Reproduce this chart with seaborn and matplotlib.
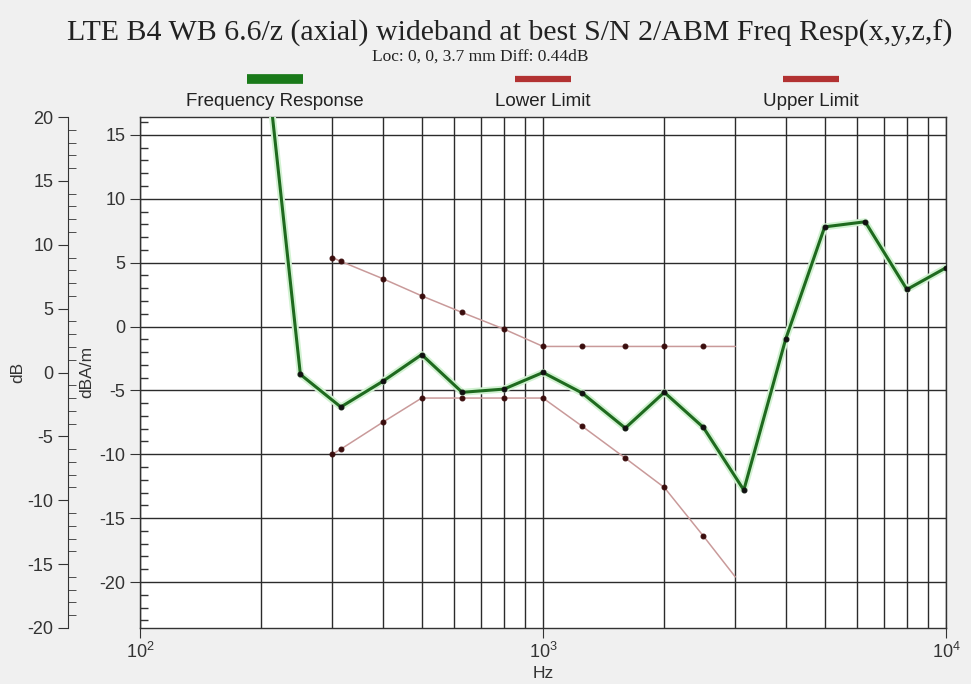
import numpy as np
import pandas as pd
import seaborn as sns
import matplotlib.pyplot as plt
from matplotlib.lines import Line2D
from matplotlib.ticker import MultipleLocator

# Frequency response (dBA/m)
resp_hz = [200, 250, 315, 400, 500, 630, 800, 1000, 1250, 1600, 2000, 2500,
           3150, 4000, 5000, 6300, 8000, 10000]
resp_db = [24.5, -3.75, -6.3, -4.3, -2.2, -5.15, -4.9, -3.6, -5.2, -7.95,
           -5.15, -7.9, -12.8, -1.0, 7.8, 8.2, 2.9, 4.6]

# Limit masks
limit_hz = [300, 315, 400, 500, 630, 800, 1000, 1250, 1600, 2000, 2500, 3000]
upper_db = [5.4, 5.1, 3.75, 2.4, 1.1, -0.2, -1.56, -1.56, -1.56, -1.56, -1.56, -1.56]
lower_db = [-10.0, -9.6, -7.5, -5.6, -5.6, -5.6, -5.6, -7.8, -10.3, -12.6, -16.4, -19.6]

db_offset = 3.6  # outer dB axis = dBA/m + offset

resp = pd.DataFrame({"Hz": resp_hz, "val": resp_db})
upper = pd.DataFrame({"Hz": limit_hz, "val": upper_db})
lower = pd.DataFrame({"Hz": limit_hz, "val": lower_db})

sns.set_style("white")
plt.rcParams["font.family"] = ["Liberation Sans", "DejaVu Sans"]
plt.rcParams["axes.unicode_minus"] = False

W, H = 971, 684
fig = plt.figure(figsize=(W / 100, H / 100), dpi=100, facecolor="#f0f0f0")
ax = fig.add_axes([140 / W, 1 - 628 / H, 806 / W, 511 / H])
ax.set_facecolor("white")

green = "#1f6a1f"
limit_col = "#c99a9a"
dot_col = "#3a0d0d"

# limits
for d in (upper, lower):
    sns.lineplot(data=d, x="Hz", y="val", ax=ax, color=limit_col, lw=1.1,
                 marker="o", markersize=3.5, markerfacecolor=dot_col,
                 markeredgecolor=dot_col, markevery=list(range(len(d) - 1)),
                 sort=False, zorder=3)

# frequency response with soft halo
sns.lineplot(data=resp, x="Hz", y="val", ax=ax, color="#d2f2d2", lw=5,
             sort=False, zorder=4)
sns.lineplot(data=resp, x="Hz", y="val", ax=ax, color=green, lw=2.2,
             marker="o", markersize=3.5, markerfacecolor="#111111",
             markeredgecolor="#111111", sort=False, zorder=5)

ax.set_xscale("log")
ax.set_xlim(100, 10000)
ax.set_ylim(-20 - db_offset, 20 - db_offset)
ax.yaxis.set_major_locator(MultipleLocator(5))
ax.yaxis.set_minor_locator(MultipleLocator(1))

ax.grid(True, axis="y", which="major", color="#2b2b2b", lw=1.0)
ax.grid(True, axis="x", which="both", color="#2b2b2b", lw=1.0)
ax.set_axisbelow(True)

for s in ax.spines.values():
    s.set_color("#333333")
    s.set_linewidth(1.0)

ax.tick_params(axis="y", which="major", direction="out", length=7, left=True,
               labelsize=13, labelcolor="#333333", color="#333333")
ax.tick_params(axis="y", which="minor", direction="in", length=6, width=1,
               color="#333333", left=True)
ax.tick_params(axis="x", which="major", direction="out", length=7, bottom=True,
               labelsize=13, labelcolor="#333333", color="#333333", pad=3)
ax.tick_params(axis="x", which="minor", length=0)

ax.set_xlabel("")
ax.set_ylabel("")

# outer dB axis
sec = ax.secondary_yaxis(-72 / 806, functions=(lambda y: y + db_offset,
                                                lambda y: y - db_offset))
sec.yaxis.set_major_locator(MultipleLocator(5))
sec.yaxis.set_minor_locator(MultipleLocator(1))
sec.spines["left"].set_color("#333333")
sec.tick_params(axis="y", which="major", direction="out", length=7,
                labelsize=13, labelcolor="#333333", color="#333333")
sec.tick_params(axis="y", which="minor", direction="in", length=6,
                color="#333333")

# axis labels
fig.text(18 / W, 1 - 372 / H, "dB", rotation=90, ha="center", va="center",
         fontsize=12.5, color="#333333")
fig.text(87 / W, 1 - 372 / H, "dBA/m", rotation=90, ha="center", va="center",
         fontsize=12.5, color="#333333")
fig.text(543 / W, 1 - 673 / H, "Hz", ha="center", va="center",
         fontsize=12.5, color="#333333")

# titles
fig.text(510 / W, 1 - 33 / H,
         "LTE B4 WB 6.6/z (axial) wideband at best S/N 2/ABM Freq Resp(x,y,z,f)",
         ha="center", va="center", fontsize=21.5, family="Liberation Serif",
         color="#222222")
fig.text(480 / W, 1 - 57 / H, "Loc: 0, 0, 3.7 mm Diff: 0.44dB",
         ha="center", va="center", fontsize=12.5, family="Liberation Serif",
         color="#222222")

# legend drawn above the plot
legend_items = [("Frequency Response", "#1a7a1a", 275),
                ("Lower Limit", "#b23232", 543),
                ("Upper Limit", "#b23232", 811)]
for label, col, cx in legend_items:
    lw = 7 if col == "#1a7a1a" else 4.5
    fig.add_artist(Line2D([(cx - 28) / W, (cx + 28) / W], [1 - 79 / H, 1 - 79 / H],
                          color=col, lw=lw, solid_capstyle="butt"))
    fig.text(cx / W, 1 - 102 / H, label, ha="center", va="center",
             fontsize=13.5, color="#222222")

fig.savefig("out.png", dpi=100, facecolor=fig.get_facecolor())
